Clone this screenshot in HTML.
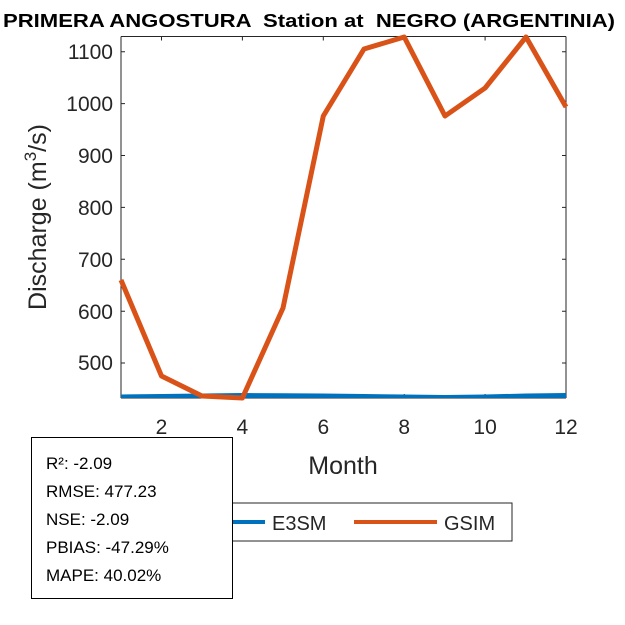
<!DOCTYPE html>
<html><head><style>body{margin:0;background:#fff}svg{display:block}text{font-family:"Liberation Sans",Arial,sans-serif;fill:#262626}</style></head><body>
<svg width="625" height="625" xmlns="http://www.w3.org/2000/svg">
<rect width="625" height="625" fill="#fff"/>
<text x="3" y="27" font-size="18" font-weight="bold" textLength="612" lengthAdjust="spacingAndGlyphs" style="fill:#000;white-space:pre">PRIMERA ANGOSTURA  Station at  NEGRO (ARGENTINIA)</text>
<g stroke="#262626" stroke-width="1" fill="none">
<path d="M121 398V36.5"/>
<path d="M566 398V36.5"/>
<path d="M121 36.5H566"/>
<path d="M121 398H566"/>
<path d="M121 51.7h4M121 103.6h4M121 155.5h4M121 207.4h4M121 259.3h4M121 311.2h4M121 363h4"/>
<path d="M566 51.7h-4M566 103.6h-4M566 155.5h-4M566 207.4h-4M566 259.3h-4M566 311.2h-4M566 363h-4"/>
<path d="M161.5 398v-4M242.4 398v-4M323.3 398v-4M404.2 398v-4M485.1 398v-4M566 398v-4"/>
<path d="M161.5 36.5v4M242.4 36.5v4M323.3 36.5v4M404.2 36.5v4M485.1 36.5v4"/>
</g>
<g font-size="21" text-anchor="end">
<text x="113" y="59">1100</text><text x="113" y="111">1000</text><text x="113" y="163">900</text><text x="113" y="215">800</text><text x="113" y="267">700</text><text x="113" y="319">600</text><text x="113" y="370">500</text>
</g>
<g font-size="21" text-anchor="middle">
<text x="161.5" y="434">2</text><text x="242.4" y="434">4</text><text x="323.3" y="434">6</text><text x="404.2" y="434">8</text><text x="485.1" y="434">10</text><text x="566" y="434">12</text>
<text x="343" y="474" font-size="25">Month</text>
</g>
<text transform="translate(46,217) rotate(-90)" font-size="25" text-anchor="middle">Discharge (m<tspan font-size="17" dy="-10">3</tspan><tspan dy="10">/s)</tspan></text>
<svg x="121" y="37" width="445" height="361" overflow="hidden">
<polyline fill="none" stroke="#0072BD" stroke-width="5" points="0,360 40.5,359.5 81,359 121,358.5 162,358.8 202,359 243,359.5 283,360 324,360.5 364,360 405,359 445,358.5"/>
</svg>
<polyline fill="none" stroke="#D95319" stroke-width="5" stroke-linejoin="round" points="121,280 161.5,376 202,396 242.4,398 283,308 323.3,116 364,49 404.2,37 445,116 485.1,88 526,37 566,107"/>
<rect x="130" y="503" width="382" height="38" fill="#fff" stroke="#262626"/>
<line x1="232" y1="522" x2="265" y2="522" stroke="#0072BD" stroke-width="4"/>
<text x="272" y="530" font-size="20">E3SM</text>
<line x1="354" y1="522" x2="437" y2="522" stroke="#D95319" stroke-width="4"/>
<text x="444" y="530" font-size="20">GSIM</text>
<rect x="31.5" y="437.5" width="201" height="161" fill="#fff" stroke="#000"/>
<g font-size="17">
<text x="46" y="469" style="fill:#000">R²: -2.09</text>
<text x="46" y="497" style="fill:#000">RMSE: 477.23</text>
<text x="46" y="525" style="fill:#000">NSE: -2.09</text>
<text x="46" y="553" style="fill:#000">PBIAS: -47.29%</text>
<text x="46" y="581" style="fill:#000">MAPE: 40.02%</text>
</g>
</svg>
</body></html>
